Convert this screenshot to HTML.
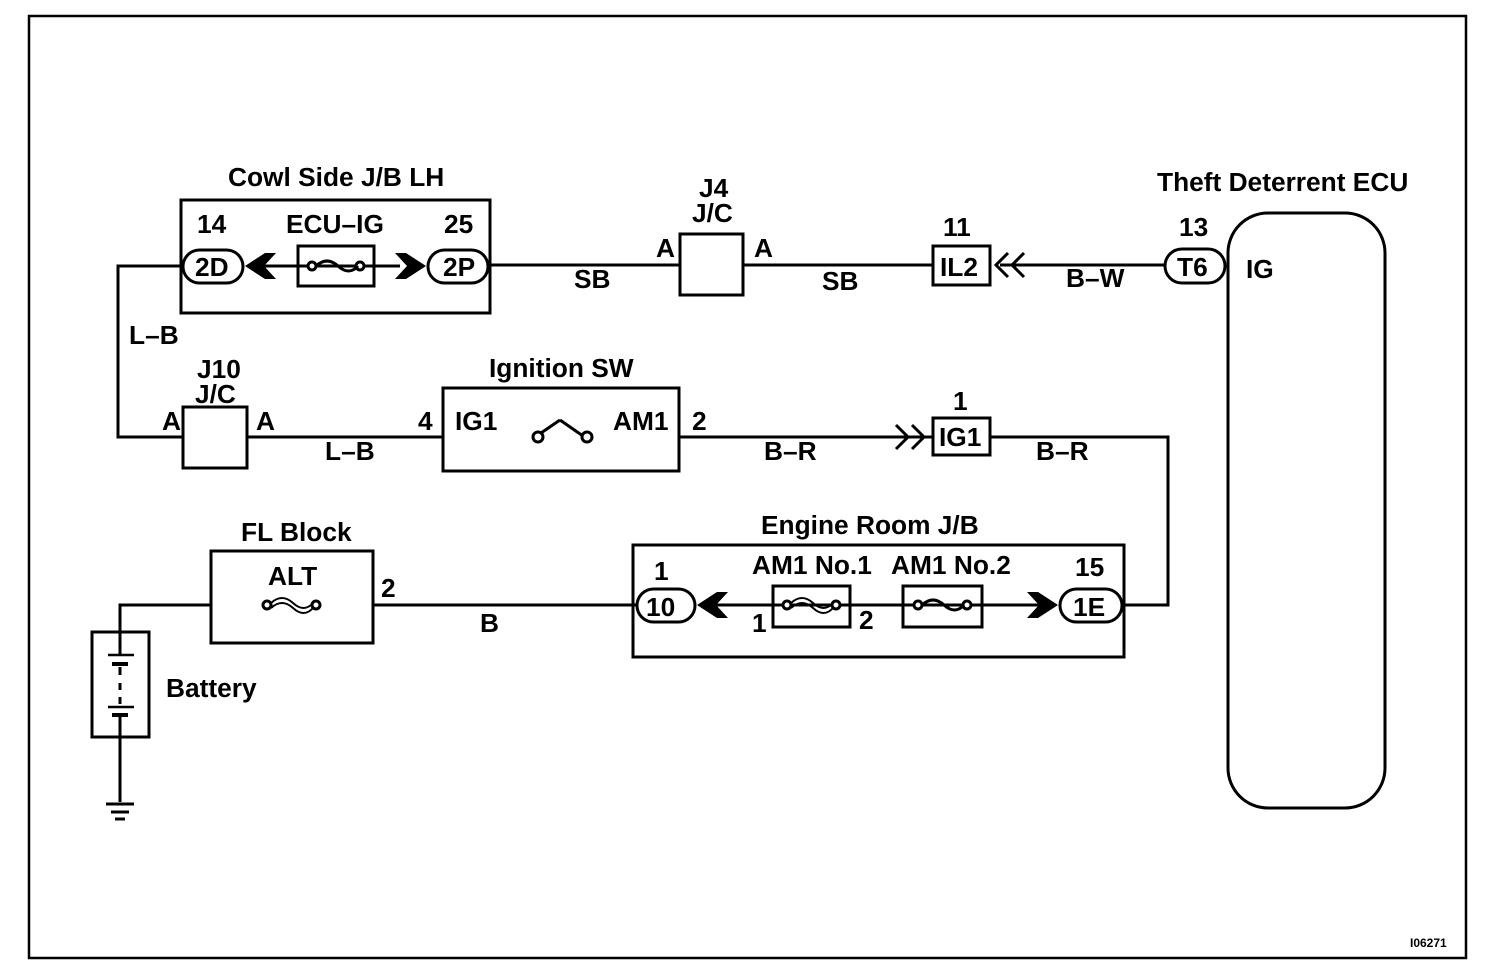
<!DOCTYPE html>
<html><head><style>
html,body{margin:0;padding:0;background:#fff;}
svg{display:block;}
text{font-family:"Liberation Sans",Arial,sans-serif;font-size:26.3px;fill:#000;font-weight:bold;}
</style></head><body>
<svg width="1504" height="978" viewBox="0 0 1504 978" xmlns="http://www.w3.org/2000/svg">
<g fill="none" stroke="#000" stroke-width="3">
<rect x="29" y="16" width="1437" height="942" stroke-width="2.5"/>
<rect x="181" y="200" width="309" height="113"/>
<rect x="183" y="250" width="60" height="33" rx="16.5"/>
<rect x="428" y="250" width="60" height="33" rx="16.5"/>
<rect x="298" y="246" width="76" height="40"/>
<line x1="262" y1="266" x2="400" y2="266"/>
<circle cx="312" cy="266" r="4" fill="#fff"/><circle cx="360" cy="266" r="4" fill="#fff"/>
<path d="M316 266 q11 -10 22 0 q11 10 20 0"/>
<polyline points="183,266 118,266 118,437 183,437"/>
<line x1="490" y1="265" x2="680" y2="265"/>
<rect x="680" y="234" width="63" height="61"/>
<line x1="743" y1="265" x2="933" y2="265"/>
<rect x="933" y="246" width="57" height="39"/>
<line x1="1000" y1="265" x2="1165" y2="265"/>
<polyline points="1008,253 996,265 1008,277"/>
<polyline points="1024,253 1012,265 1024,277"/>
<rect x="1165" y="249" width="60" height="34" rx="17"/>
<rect x="1228" y="213" width="157" height="595" rx="40"/>
<rect x="183" y="407" width="64" height="61"/>
<line x1="247" y1="437" x2="443" y2="437"/>
<rect x="443" y="388" width="236" height="83"/>
<circle cx="538" cy="437" r="5" fill="#fff"/><circle cx="587" cy="437" r="5" fill="#fff"/>
<line x1="541" y1="433" x2="560" y2="420"/><line x1="560" y1="420" x2="583" y2="436"/>
<line x1="679" y1="437" x2="933" y2="437"/>
<polyline points="896,425 908,437 896,449"/>
<polyline points="912,425 924,437 912,449"/>
<rect x="933" y="418" width="57" height="37"/>
<polyline points="990,437 1168,437 1168,605 1122,605"/>
<rect x="633" y="545" width="491" height="112"/>
<rect x="637" y="589" width="58" height="33" rx="16.5"/>
<rect x="1060" y="589" width="62" height="33" rx="16.5"/>
<line x1="712" y1="605" x2="1040" y2="605"/>
<rect x="773" y="586" width="77" height="41"/>
<rect x="903" y="586" width="79" height="41"/>
<circle cx="787" cy="605" r="4" fill="#fff"/><circle cx="836" cy="605" r="4" fill="#fff"/>
<path d="M791 603 q11 -10 22 0 q11 10 20 0" stroke-width="2"/>
<path d="M791 608 q11 -10 22 0 q11 10 20 0" stroke-width="2"/>
<circle cx="918" cy="605" r="4" fill="#fff"/><circle cx="967" cy="605" r="4" fill="#fff"/>
<path d="M922 605 q11 -10 22 0 q11 10 20 0"/>
<rect x="211" y="551" width="162" height="92"/>
<polyline points="637,605 373,605"/>
<polyline points="211,605 120,605 120,632"/>
<circle cx="267" cy="605" r="4" fill="#fff"/><circle cx="316" cy="605" r="4" fill="#fff"/>
<path d="M271 603 q11 -10 22 0 q11 10 20 0" stroke-width="2"/>
<path d="M271 608 q11 -10 22 0 q11 10 20 0" stroke-width="2"/>
<rect x="92" y="632" width="57" height="105"/>
<line x1="120" y1="632" x2="120" y2="655"/>
<line x1="108" y1="655" x2="134" y2="655" stroke-width="2.5"/>
<line x1="112" y1="664" x2="128" y2="664" stroke-width="4"/>
<line x1="120" y1="667" x2="120" y2="675"/><line x1="120" y1="683" x2="120" y2="690"/><line x1="120" y1="697" x2="120" y2="704"/>
<line x1="108" y1="707" x2="134" y2="707" stroke-width="2.5"/>
<line x1="112" y1="715" x2="128" y2="715" stroke-width="4"/>
<line x1="120" y1="715" x2="120" y2="802"/>
<line x1="106" y1="804" x2="134" y2="804"/>
<line x1="111" y1="812" x2="129" y2="812"/>
<line x1="115" y1="819" x2="125" y2="819"/>
</g>
<g fill="#000">
<polygon points="245,266 265,253 276,253 264,266 276,279 265,279"/>
<polygon points="426,266 406,253 395,253 407,266 395,279 406,279"/>
<polygon points="697,605 717,592 728,592 716,605 728,618 717,618"/>
<polygon points="1058,605 1038,592 1027,592 1039,605 1027,618 1038,618"/>
</g>
<text x="228" y="186">Cowl Side J/B LH</text>
<text x="197" y="233">14</text>
<text x="286" y="233">ECU–IG</text>
<text x="444" y="233">25</text>
<text x="195" y="276">2D</text>
<text x="443" y="276">2P</text>
<text x="574" y="288">SB</text>
<text x="699" y="197">J4</text>
<text x="692" y="222">J/C</text>
<text x="656" y="257">A</text>
<text x="754" y="257">A</text>
<text x="822" y="290">SB</text>
<text x="943" y="236">11</text>
<text x="940" y="276">IL2</text>
<text x="1066" y="287">B–W</text>
<text x="1179" y="236">13</text>
<text x="1177" y="276">T6</text>
<text x="1157" y="191">Theft Deterrent ECU</text>
<text x="1246" y="278">IG</text>
<text x="129" y="344">L–B</text>
<text x="197" y="378">J10</text>
<text x="195" y="403">J/C</text>
<text x="162" y="430">A</text>
<text x="256" y="430">A</text>
<text x="325" y="460">L–B</text>
<text x="489" y="377">Ignition SW</text>
<text x="418" y="430">4</text>
<text x="455" y="430">IG1</text>
<text x="613" y="430">AM1</text>
<text x="692" y="430">2</text>
<text x="764" y="460">B–R</text>
<text x="953" y="410">1</text>
<text x="939" y="446">IG1</text>
<text x="1036" y="460">B–R</text>
<text x="241" y="541">FL Block</text>
<text x="268" y="585">ALT</text>
<text x="381" y="597">2</text>
<text x="480" y="632">B</text>
<text x="166" y="697">Battery</text>
<text x="761" y="534">Engine Room J/B</text>
<text x="654" y="580">1</text>
<text x="752" y="574">AM1 No.1</text>
<text x="891" y="574">AM1 No.2</text>
<text x="1075" y="576">15</text>
<text x="646" y="616">10</text>
<text x="1073" y="616">1E</text>
<text x="752" y="632">1</text>
<text x="859" y="629">2</text>
<text x="1410" y="947" style="font-size:12px">I06271</text>
</svg>
</body></html>
